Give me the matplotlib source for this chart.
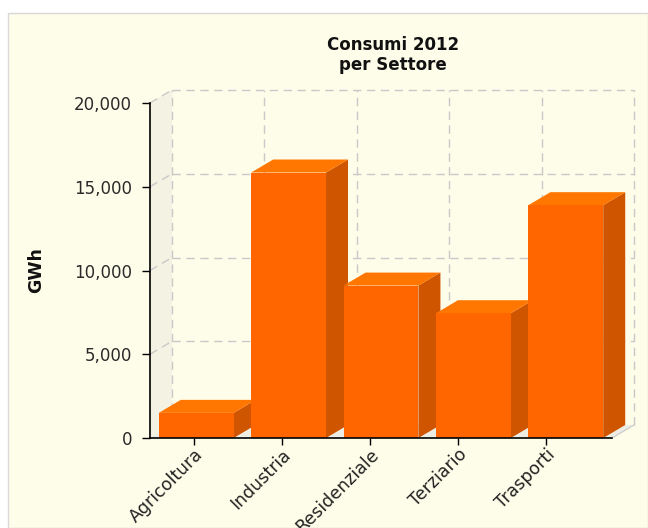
import numpy as np
import matplotlib
matplotlib.use('Agg')
import matplotlib.pyplot as plt
from matplotlib.patches import Polygon, Rectangle
from matplotlib.ticker import FuncFormatter
from matplotlib.transforms import ScaledTranslation

settori = ['Agricoltura', 'Industria', 'Residenziale', 'Terziario', 'Trasporti']
consumi = [1500, 15850, 9100, 7450, 13900]  # GWh
yticks = [0, 5000, 10000, 15000, 20000]

bg = '#fefde9'
fig = plt.figure(figsize=(6.48, 5.28), dpi=100, facecolor='white')
fig.patches.append(Rectangle((8 / 648, 0), 640 / 648, 515 / 528, transform=fig.transFigure,
                             facecolor=bg, edgecolor='#d9d9d9', lw=1, zorder=-10))

ax = fig.add_axes([150 / 648, 90 / 528, 462 / 648, 335 / 528])
n = len(settori)
ymax = 20000
ax.set_xlim(-0.5, n - 0.5)
ax.set_ylim(0, ymax)
ax.patch.set_visible(False)

# 3D depth in data units (22 px right, 13 px up)
dx = 22 * n / ax.bbox.width
dy = 13 * ymax / ax.bbox.height

# walls
ax.add_patch(Polygon([(-0.5, 0), (-0.5 + dx, dy), (-0.5 + dx, ymax + dy), (-0.5, ymax)],
                     facecolor='#f4f2e3', edgecolor='none', zorder=0, clip_on=False))
ax.add_patch(Polygon([(-0.5, 0), (n - 0.5, 0), (n - 0.5 + dx, dy), (-0.5 + dx, dy)],
                     facecolor='#eeede3', edgecolor='none', zorder=0, clip_on=False))

# grid on the back wall
gstyle = dict(color='#c9c9c9', lw=1, ls=(0, (6, 4)), clip_on=False, zorder=1)
for y in yticks[1:]:
    ax.plot([-0.5 + dx, n - 0.5 + dx], [y + dy, y + dy], **gstyle)
    ax.plot([-0.5, -0.5 + dx], [y, y + dy], **gstyle)
for x in np.arange(-0.5, n):
    ax.plot([x + dx, x + dx], [dy, ymax + dy], **gstyle)
ax.plot([n - 0.5, n - 0.5 + dx], [0, dy], color='#cfcfcf', lw=1, clip_on=False, zorder=1)

# bars
w = 0.81
z = 2
for i, v in enumerate(consumi):
    l, r = i - w / 2, i + w / 2
    ax.add_patch(Polygon([(r, 0), (r + dx, dy), (r + dx, v + dy), (r, v)],
                         facecolor='#cf5500', edgecolor='none', zorder=z, clip_on=False))
    ax.add_patch(Polygon([(l, v), (r, v), (r + dx, v + dy), (l + dx, v + dy)],
                         facecolor='#ff7700', edgecolor='none', zorder=z, clip_on=False))
    ax.add_patch(Rectangle((l, 0), w, v, facecolor='#ff6600', edgecolor='none',
                           zorder=z + 0.5, clip_on=False))
    z += 1

for s in ['top', 'right']:
    ax.spines[s].set_visible(False)
for s in ['left', 'bottom']:
    ax.spines[s].set_color('black')
    ax.spines[s].set_linewidth(1.2)
    ax.spines[s].set_zorder(20)

ax.set_yticks(yticks)
ax.yaxis.set_major_formatter(FuncFormatter(lambda v, p: f'{int(v):,}'))
ax.tick_params(axis='y', length=6, width=1, pad=7, labelsize=12, labelcolor='#2a2a2a')

k = (ax.bbox.width - 22) / ax.bbox.width
ax.set_xticks(-0.5 + (np.arange(n) + 0.5) * k)
ax.set_xticklabels(settori, rotation=45, ha='right', va='center', rotation_mode='anchor')
ax.tick_params(axis='x', length=5, width=1, pad=5, labelsize=12.5, labelcolor='#222222')
for lab in ax.get_xticklabels():
    lab.set_transform(lab.get_transform() + ScaledTranslation(6 / 100, 0, fig.dpi_scale_trans))

ax.set_ylabel('GWh', fontweight='bold', fontsize=12.5, color='#111111')
ax.yaxis.set_label_coords((45 - 150) / 462, 0.5)

fig.text(393 / 648, 1 - 36 / 528, 'Consumi 2012\nper Settore', ha='center', va='top',
         fontweight='bold', fontsize=12, color='#111111', linespacing=1.15)

fig.savefig('out.png', dpi=100, facecolor='white')
